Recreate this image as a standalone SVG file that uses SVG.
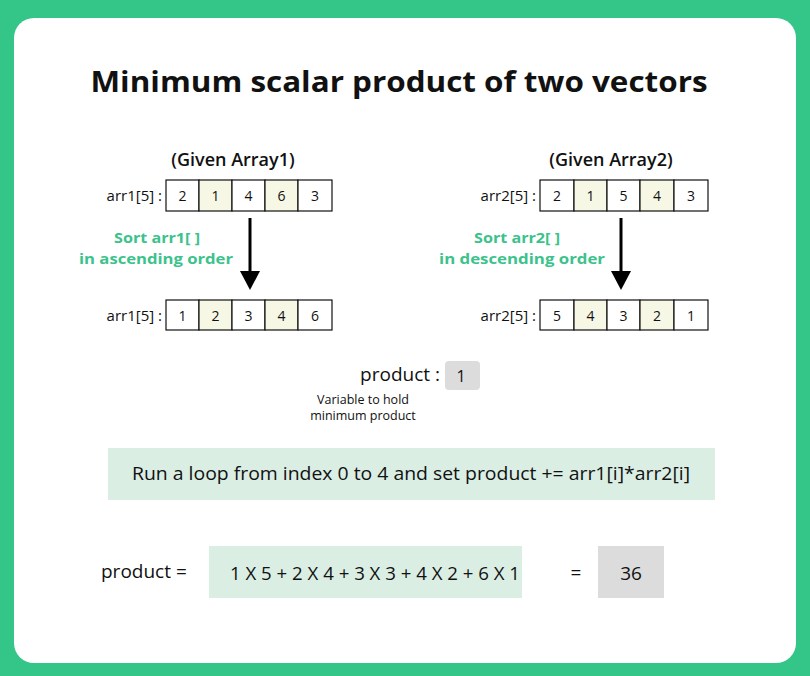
<svg xmlns="http://www.w3.org/2000/svg" width="810" height="676" viewBox="0 0 810 676">
<style>
text{font-family:"Open Sans","Liberation Sans",sans-serif;fill:#111}
.cell{fill:#fff;stroke:#111;stroke-width:1.2}
.hl{fill:#F7F7E6;stroke:#111;stroke-width:1.2}
.n{font-size:14px;text-anchor:middle}
.lab{font-size:15px;text-anchor:end}
.cap{font-size:18px;text-anchor:middle;font-weight:600}
.green{font-size:15px;font-weight:700;fill:#3CC28B;text-anchor:middle}
.arrow{stroke:#000;stroke-width:3}
</style>
<rect x="0" y="0" width="810" height="676" fill="#33C688"/>
<rect x="14" y="18" width="782" height="645" rx="20" fill="#fff"/>
<text x="399" y="92" font-size="29" font-weight="700" text-anchor="middle" textLength="617" lengthAdjust="spacingAndGlyphs">Minimum scalar product of two vectors</text>

<g id="arr1">
<text class="cap" x="233" y="166">(Given Array1)</text>
<text class="lab" x="162" y="201">arr1[5] :</text>
<rect class="cell" x="166" y="180" width="33" height="31"/>
<rect class="hl" x="199" y="180" width="33" height="31"/>
<rect class="cell" x="232" y="180" width="33" height="31"/>
<rect class="hl" x="265" y="180" width="33" height="31"/>
<rect class="cell" x="298" y="180" width="34" height="31"/>
<text class="n" x="182.5" y="201">2</text><text class="n" x="215.5" y="201">1</text><text class="n" x="248.5" y="201">4</text><text class="n" x="281.5" y="201">6</text><text class="n" x="315" y="201">3</text>
</g>

<g id="arr2">
<text class="cap" x="611" y="166">(Given Array2)</text>
<text class="lab" x="536" y="201">arr2[5] :</text>
<rect class="cell" x="540" y="180" width="34" height="31"/>
<rect class="hl" x="574" y="180" width="33" height="31"/>
<rect class="cell" x="607" y="180" width="33" height="31"/>
<rect class="hl" x="640" y="180" width="34" height="31"/>
<rect class="cell" x="674" y="180" width="34" height="31"/>
<text class="n" x="557" y="201">2</text><text class="n" x="590.5" y="201">1</text><text class="n" x="623.5" y="201">5</text><text class="n" x="657" y="201">4</text><text class="n" x="691" y="201">3</text>
</g>

<g id="sorted1">
<text class="lab" x="162" y="321">arr1[5] :</text>
<rect class="cell" x="166" y="300" width="33" height="30"/>
<rect class="hl" x="199" y="300" width="33" height="30"/>
<rect class="cell" x="232" y="300" width="33" height="30"/>
<rect class="hl" x="265" y="300" width="33" height="30"/>
<rect class="cell" x="298" y="300" width="34" height="30"/>
<text class="n" x="182.5" y="321">1</text><text class="n" x="215.5" y="321">2</text><text class="n" x="248.5" y="321">3</text><text class="n" x="281.5" y="321">4</text><text class="n" x="315" y="321">6</text>
</g>

<g id="sorted2">
<text class="lab" x="536" y="321">arr2[5] :</text>
<rect class="cell" x="540" y="300" width="34" height="30"/>
<rect class="hl" x="574" y="300" width="33" height="30"/>
<rect class="cell" x="607" y="300" width="33" height="30"/>
<rect class="hl" x="640" y="300" width="34" height="30"/>
<rect class="cell" x="674" y="300" width="34" height="30"/>
<text class="n" x="557" y="321">5</text><text class="n" x="590.5" y="321">4</text><text class="n" x="623.5" y="321">3</text><text class="n" x="657" y="321">2</text><text class="n" x="691" y="321">1</text>
</g>

<g id="connectors">
<line class="arrow" x1="250" y1="218" x2="250" y2="274"/>
<polygon points="240,271 260,271 250,290" fill="#000"/>
<line class="arrow" x1="621" y1="218" x2="621" y2="274"/>
<polygon points="611,271 631,271 621,290" fill="#000"/>
</g>
<g id="sort1-label">
<text class="green" x="157" y="243" textLength="86" lengthAdjust="spacingAndGlyphs">Sort arr1[ ]</text>
<text class="green" x="156" y="264" textLength="154" lengthAdjust="spacingAndGlyphs">in ascending order</text>
</g>
<g id="sort2-label">
<text class="green" x="517" y="243" textLength="86" lengthAdjust="spacingAndGlyphs">Sort arr2[ ]</text>
<text class="green" x="522" y="264" textLength="166" lengthAdjust="spacingAndGlyphs">in descending order</text>
</g>

<g id="product-var">
<text x="440" y="381" font-size="19" text-anchor="end">product :</text>
<rect x="445" y="361" width="35" height="29" rx="4" fill="#DCDCDC"/>
<text x="461" y="382" font-size="16" text-anchor="middle">1</text>
<text x="363" y="404" font-size="12.5" text-anchor="middle">Variable to hold</text>
<text x="363" y="420" font-size="12.5" text-anchor="middle">minimum product</text>
</g>

<g id="loop">
<rect x="108" y="448" width="607" height="52" fill="#DAEEE4"/>
<text x="411" y="480" font-size="18.5" text-anchor="middle" textLength="558" lengthAdjust="spacingAndGlyphs">Run a loop from index 0 to 4 and set product += arr1[i]*arr2[i]</text>
</g>

<g id="result">
<text x="101" y="578" font-size="19">product =</text>
<rect x="209" y="546" width="313" height="52" fill="#DAEEE4"/>
<text x="375" y="580" font-size="19" text-anchor="middle" textLength="290" lengthAdjust="spacingAndGlyphs">1 X 5 + 2 X 4 + 3 X 3 + 4 X 2 + 6 X 1</text>
<text x="576" y="579" font-size="19" text-anchor="middle">=</text>
<rect x="598" y="546" width="66" height="52" fill="#DCDCDC"/>
<text x="631" y="580" font-size="19" text-anchor="middle">36</text>
</g>
</svg>
